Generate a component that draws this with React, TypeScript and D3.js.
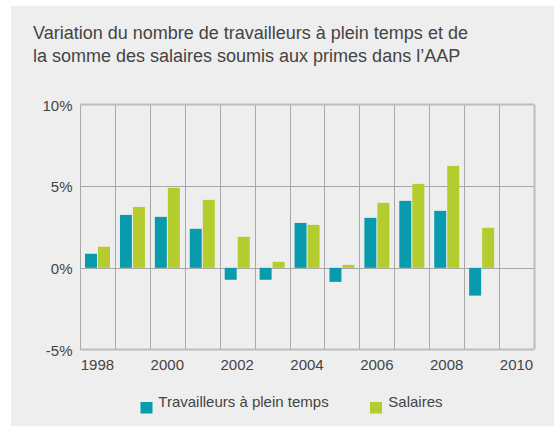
import React from 'react';
import * as d3 from 'd3';

const years = ['1998', '1999', '2000', '2001', '2002', '2003', '2004', '2005', '2006', '2007', '2008', '2009', '2010'];
const travailleurs = [0.86, 3.24, 3.12, 2.39, -0.73, -0.73, 2.75, -0.86, 3.06, 4.1, 3.49, -1.7, null];
const salaires = [1.29, 3.73, 4.9, 4.16, 1.9, 0.37, 2.63, 0.18, 3.98, 5.14, 6.24, 2.45, null];
const yTicks = [-5, 0, 5, 10];
const yearLabels = ['1998', '2000', '2002', '2004', '2006', '2008', '2010'];
const seriesKeys = ['travailleurs', 'salaires'];
const seriesNames = ['Travailleurs à plein temps', 'Salaires'];

const COLORS: Record<string, string> = {
  travailleurs: '#089aad',
  salaires: '#b4cc2e',
};

const W = 554;
const H = 426;
const FONT = '"Liberation Sans", Arial, Helvetica, sans-serif';
const TEXT = '#444444';

export default function App() {
  const left = 80;
  const right = 534;
  const top = 104.5;
  const bottom = 349.5;

  const x0 = d3.scaleBand<string>().domain(years).range([left, right]);
  const x1 = d3.scaleBand<string>().domain(seriesKeys).range([5, 30]).paddingInner(0.08);
  const y = d3.scaleLinear().domain([-5, 10]).range([bottom, top]);

  const values: Record<string, (number | null)[]> = { travailleurs, salaires };
  const crisp = (v: number) => Math.round(v) + 0.5;

  const boundaries = years.map(yr => x0(yr) as number).concat([right]);

  return (
    <svg width={W} height={H} style={{ position: 'absolute', left: 0, top: 0, display: 'block' }}>
      <rect x={0} y={0} width={W} height={H} fill="#ffffff" />
      <rect x={11} y={6} width={W - 11} height={H - 6} fill="#eeeeee" />

      {/* title */}
      <text x={33} y={39} fontFamily={FONT} fontSize={18} fill={TEXT}>
        Variation du nombre de travailleurs à plein temps et de
      </text>
      <text x={33} y={61.5} fontFamily={FONT} fontSize={18} fill={TEXT}>
        la somme des salaires soumis aux primes dans l’AAP
      </text>

      {/* grid */}
      <g>
        {boundaries.map((bx, i) => (
          <line
            key={'v' + i}
            x1={crisp(bx)}
            x2={crisp(bx)}
            y1={top}
            y2={bottom}
            stroke={i === boundaries.length - 1 ? '#bdbdbd' : '#a8a8a8'}
            strokeWidth={i === boundaries.length - 1 ? 2 : 1}
          />
        ))}
        {yTicks.map(t => {
          const edge = t === 10 || t === -5;
          return (
            <line
              key={'h' + t}
              x1={left}
              x2={right}
              y1={edge ? y(t) : crisp(y(t))}
              y2={edge ? y(t) : crisp(y(t))}
              stroke={edge ? '#bdbdbd' : '#a8a8a8'}
              strokeWidth={edge ? 2 : 1}
            />
          );
        })}
      </g>

      {/* bars */}
      <g>
        {years.map((yr, i) => (
          <g key={yr} transform={`translate(${x0(yr)},0)`}>
            {seriesKeys.map(k => {
              const v = values[k][i];
              if (v === null || v === undefined) return null;
              const y0 = y(0);
              const yv = y(v);
              return (
                <rect
                  key={k}
                  x={x1(k)}
                  width={x1.bandwidth()}
                  y={Math.min(y0, yv)}
                  height={Math.abs(yv - y0)}
                  fill={COLORS[k]}
                />
              );
            })}
          </g>
        ))}
      </g>

      {/* y labels */}
      <g fontFamily={FONT} fontSize={15} fill={TEXT} textAnchor="end">
        {yTicks.map(t => (
          <text key={t} x={72.5} y={y(t) + 6.3}>
            {t + '%'}
          </text>
        ))}
      </g>

      {/* x labels */}
      <g fontFamily={FONT} fontSize={15} fill={TEXT} textAnchor="middle">
        {yearLabels.map(yr => (
          <text key={yr} x={(x0(yr) as number) + x0.bandwidth() / 2} y={369.5}>
            {yr}
          </text>
        ))}
      </g>

      {/* legend */}
      <g fontFamily={FONT} fontSize={15} fill={TEXT}>
        <rect x={140.5} y={402} width={12} height={11.5} fill={COLORS.travailleurs} />
        <text x={158.3} y={407}>{seriesNames[0]}</text>
        <rect x={370} y={402} width={12} height={11.5} fill={COLORS.salaires} />
        <text x={388.3} y={407}>{seriesNames[1]}</text>
      </g>
    </svg>
  );
}
